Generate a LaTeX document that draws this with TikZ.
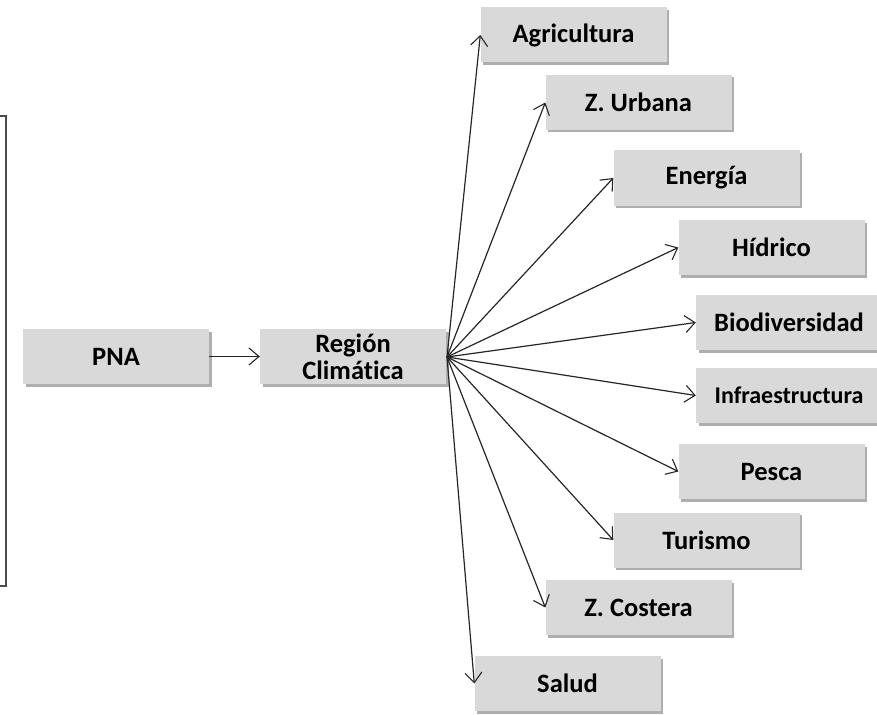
\documentclass[tikz,border=0pt]{standalone}
\usepackage{fontspec}
\setmainfont{Carlito}[Ligatures=NoCommon]
\usetikzlibrary{arrows.meta,shadows,positioning}
\begin{document}
\begin{tikzpicture}[x=1pt,y=-1pt,
  box/.style={rectangle, fill=black!15, draw=none, minimum width=186pt, minimum height=55pt,
    inner sep=0pt, align=center, font=\fontsize{26.5}{27}\selectfont\bfseries,
    drop shadow={shadow xshift=2.5pt, shadow yshift=-2.5pt, opacity=0.45, fill=black!70}},
  arr/.style={draw=black!85, line width=1.2pt, -{Straight Barb[length=10pt,width=17pt,line width=1.1pt]}},
  frame/.style={draw=black!70, line width=1.6pt}
]
\useasboundingbox (0,0) rectangle (877,714);
% left frame fragment
\coordinate (ftl) at (0,116);
\coordinate (ftr) at (6,116);
\coordinate (fbr) at (6,586);
\coordinate (fbl) at (0,586);
\draw[frame] (ftl) -- (ftr) -- (fbr) -- (fbl);

\node[box] (pna) at (116,356.5) {PNA};
\node[box] (reg) at (353,356.5) {Región\\Climática};
\coordinate (hub) at (447,357);

\node[box] (agr) at (573.5,35) {Agricultura};
\node[box] (urb) at (638.5,102.5) {Z. Urbana};
\node[box] (ene) at (706.5,178) {Energía};
\node[box] (hid) at (771.5,247.5) {Hídrico};
\node[box] (bio) at (789,322.5) {Biodiversidad};
\node[box, font=\fontsize{24}{26}\selectfont\bfseries] (inf) at (789,395.5) {Infraestructura};
\node[box] (pes) at (771.5,471.5) {Pesca};
\node[box] (tur) at (706.5,540) {Turismo};
\node[box] (cos) at (638.5,607.5) {Z. Costera};
\node[box] (sal) at (567.5,683.5) {Salud};

\draw[arr] (pna.east) -- (reg.west);
\foreach \n in {agr,urb,ene,hid,bio,inf,pes,tur,cos,sal}
  \draw[arr] (hub) -- (\n.west);
\end{tikzpicture}
\end{document}
